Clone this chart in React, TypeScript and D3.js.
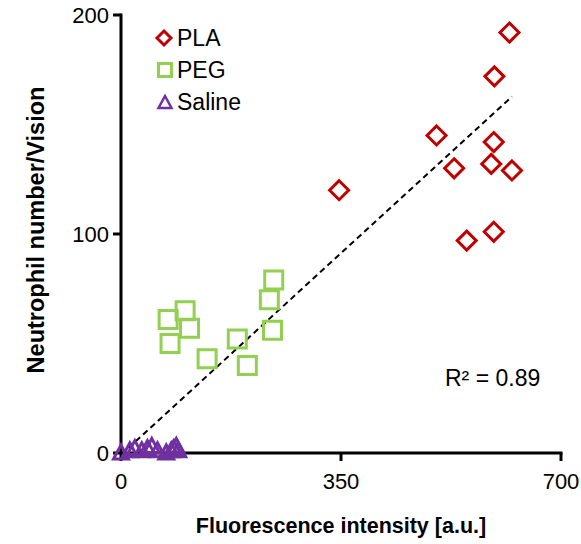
import React from "react";
import * as d3 from "d3";

const plaX = [618, 594, 502, 593, 530, 589, 622, 347, 550, 593];
const plaY = [192, 172, 145, 142, 130, 132, 129, 120, 97, 101];
const pegX = [243, 236, 102, 75, 109, 241, 78, 185, 137, 201];
const pegY = [79, 70, 65, 61, 57, 56, 50, 52, 43, 40];
const salX = [0, 14, 22, 33, 42, 49, 58, 72, 80, 84, 88, 91];
const salY = [0, 1, 2, 1, 2, 3, 1, 0, 1, 2, 3, 1];
const xTicks = [0, 350, 700];
const yTicks = [0, 100, 200];
const trend = { slope: 0.263, intercept: -0.8, x0: 0, x1: 622 };
const r2Label = "R² = 0.89";
const legendLabels = ["PLA", "PEG", "Saline"];

const RED = "#c00000";
const GREEN = "#92d050";
const PURPLE = "#7030a0";
const FONT = "'Liberation Sans', Arial, sans-serif";

export default function App() {
  const W = 581, H = 544;
  const x = d3.scaleLinear().domain([0, 700]).range([121, 561]);
  const y = d3.scaleLinear().domain([0, 200]).range([453, 15]);

  const diamond = (cx: number, cy: number, r: number) =>
    `M${cx},${cy - r}L${cx + r},${cy}L${cx},${cy + r}L${cx - r},${cy}Z`;
  const square = (cx: number, cy: number, s: number) =>
    `M${cx - s / 2},${cy - s / 2}h${s}v${s}h${-s}Z`;
  const tri = (cx: number, cy: number, w: number, h: number) =>
    `M${cx},${cy - h / 2}L${cx + w / 2},${cy + h / 2}L${cx - w / 2},${cy + h / 2}Z`;

  const line = d3
    .line<number>()
    .x((d) => x(d))
    .y((d) => y(trend.slope * d + trend.intercept));

  return (
    <svg width={W} height={H} style={{ position: "absolute", left: 0, top: 0 }}>
      <rect width={W} height={H} fill="#fff" />
      {/* trendline */}
      <path
        d={line([trend.x0, trend.x1]) || ""}
        stroke="#000"
        strokeWidth={2}
        strokeDasharray="6,4"
        fill="none"
      />
      {/* PEG */}
      {pegX.map((v, i) => (
        <path key={"g" + i} d={square(x(v), y(pegY[i]), 18)} fill="none" stroke={GREEN} strokeWidth={3} />
      ))}
      {/* PLA */}
      {plaX.map((v, i) => (
        <path key={"p" + i} d={diamond(x(v), y(plaY[i]), 9.5)} fill="none" stroke={RED} strokeWidth={3} />
      ))}
      {/* axes */}
      <line x1={x(0)} x2={x(0)} y1={y(200) - 1.5} y2={y(0)} stroke="#000" strokeWidth={3} />
      <line x1={x(0)} x2={x(700) + 1.5} y1={y(0)} y2={y(0)} stroke="#000" strokeWidth={3} />
      {yTicks.map((t) => (
        <line key={"yt" + t} x1={x(0) - 8} x2={x(0)} y1={y(t)} y2={y(t)} stroke="#000" strokeWidth={3} />
      ))}
      {xTicks.map((t) => (
        <line key={"xt" + t} x1={x(t)} x2={x(t)} y1={y(0)} y2={y(0) + 8} stroke="#000" strokeWidth={3} />
      ))}
      {/* Saline */}
      {salX.map((v, i) => (
        <path key={"s" + i} d={tri(x(v), y(salY[i]) - 1, 15, 14)} fill="none" stroke={PURPLE} strokeWidth={3} />
      ))}
      {/* tick labels */}
      {yTicks.map((t) => (
        <text key={"yl" + t} x={109} y={y(t)} dy="0.35em" textAnchor="end" fontFamily={FONT} fontSize={22}>
          {t}
        </text>
      ))}
      {xTicks.map((t) => (
        <text key={"xl" + t} x={x(t)} y={489} textAnchor="middle" fontFamily={FONT} fontSize={22}>
          {t}
        </text>
      ))}
      {/* axis titles */}
      <text x={341} y={533} textAnchor="middle" fontFamily={FONT} fontSize={21.5} fontWeight="bold">
        Fluorescence intensity [a.u.]
      </text>
      <text
        transform={`translate(44,230) rotate(-90)`}
        textAnchor="middle"
        fontFamily={FONT}
        fontSize={23.5}
        fontWeight="bold"
      >
        Neutrophil number/Vision
      </text>
      {/* R2 */}
      <text x={445} y={386} fontFamily={FONT} fontSize={23}>
        {r2Label}
      </text>
      {/* legend */}
      <path d={diamond(164, 38, 7)} fill="none" stroke={RED} strokeWidth={3} />
      <path d={square(165, 70, 13)} fill="none" stroke={GREEN} strokeWidth={3} />
      <path d={tri(165, 102, 13, 12)} fill="none" stroke={PURPLE} strokeWidth={2.5} />
      {legendLabels.map((l, i) => (
        <text key={l} x={177} y={[38, 70, 102][i]} dy="0.35em" fontFamily={FONT} fontSize={23}>
          {l}
        </text>
      ))}
    </svg>
  );
}
